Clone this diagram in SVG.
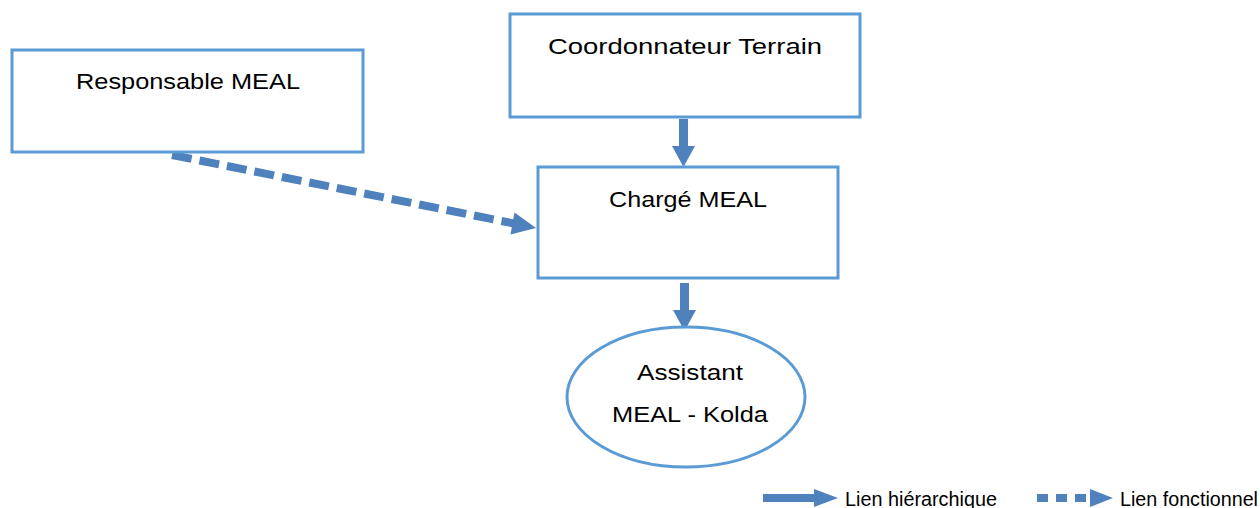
<svg xmlns="http://www.w3.org/2000/svg" width="1260" height="508" viewBox="0 0 1260 508">
<style>
.box{fill:#fff;stroke:#5B9BD5;stroke-width:3}
.t{font-family:"Liberation Sans",Arial,sans-serif;font-size:22px;fill:#000;text-anchor:middle}
.lg{font-family:"Liberation Sans",Arial,sans-serif;font-size:20px;fill:#000}
.ar{fill:#4F81BD}
.sh{stroke:#4F81BD;fill:none}
</style>
<rect width="1260" height="508" fill="#fff"/>
<g id="connectors">
<line class="sh" x1="683.5" y1="119" x2="683.5" y2="146" stroke-width="9"/>
<polygon class="ar" points="672,146 695,146 683.5,167"/>
<line class="sh" x1="684.5" y1="283" x2="684.5" y2="310" stroke-width="9"/>
<polygon class="ar" points="673,310 696,310 684.5,331"/>
<line class="sh" x1="172" y1="155" x2="514" y2="223.5" stroke-width="8" stroke-dasharray="20 8"/>
<polygon class="ar" points="536,228 510.5,234.5 514.5,212.5"/>
</g>
<g id="responsable">
<rect class="box" x="12" y="50" width="351" height="102"/>
<text class="t" x="188" y="89" textLength="224" lengthAdjust="spacingAndGlyphs">Responsable MEAL</text>
</g>
<g id="coordonnateur">
<rect class="box" x="510" y="14" width="350" height="103"/>
<text class="t" x="685" y="54" textLength="274" lengthAdjust="spacingAndGlyphs">Coordonnateur Terrain</text>
</g>
<g id="charge">
<rect class="box" x="538" y="167" width="300" height="111"/>
<text class="t" x="688" y="207" textLength="158" lengthAdjust="spacingAndGlyphs">Chargé MEAL</text>
</g>
<g id="assistant">
<ellipse class="box" cx="686" cy="397" rx="119" ry="70"/>
<text class="t" x="690" y="380" textLength="106" lengthAdjust="spacingAndGlyphs">Assistant</text>
<text class="t" x="690" y="422" textLength="156" lengthAdjust="spacingAndGlyphs">MEAL - Kolda</text>
</g>
<g id="legend">
<line class="sh" x1="763" y1="498" x2="816" y2="498" stroke-width="8"/>
<polygon class="ar" points="814,489 838,498 814,507"/>
<text class="lg" x="845" y="506" textLength="152" lengthAdjust="spacingAndGlyphs">Lien hiérarchique</text>
<line class="sh" x1="1037" y1="498" x2="1094" y2="498" stroke-width="8" stroke-dasharray="11 8"/>
<polygon class="ar" points="1090,489 1113,498 1090,507"/>
<text class="lg" x="1120" y="506" textLength="138" lengthAdjust="spacingAndGlyphs">Lien fonctionnel</text>
</g>
</svg>
